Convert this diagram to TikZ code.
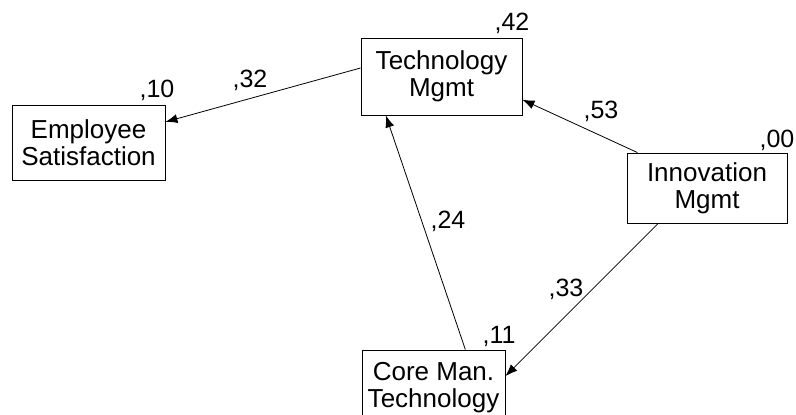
\documentclass[tikz,border=0pt]{standalone}
\usepackage{fontspec}
\setmainfont{Liberation Sans}
\usetikzlibrary{arrows.meta}

\tikzset{
  var/.style={draw, rectangle, line width=0.9pt, inner sep=0pt, align=center, font=\fontsize{26}{27}\selectfont},
  path/.style={line width=0.8pt, -{Latex[length=12pt,width=9pt]}},
  lbl/.style={inner sep=0pt, font=\fontsize{25}{26}\selectfont}
}

\begin{document}
\begin{tikzpicture}[x=1pt, y=-1pt]
                    \useasboundingbox (0,0) rectangle (796,415);
                    \clip (0,0) rectangle (796,415);

                    \node[var, minimum width=153pt, minimum height=75pt] (E) at (88.5, 142.5) {Employee\\Satisfaction};
                    \node[var, minimum width=161pt, minimum height=77pt] (T) at (441.5, 76.5) {Technology\\Mgmt};
                    \node[var, minimum width=160pt, minimum height=70pt] (I) at (707, 188) {Innovation\\Mgmt};
                    \node[var, minimum width=143pt, minimum height=75pt] (C) at (433.5, 387.5) {Core Man.\\Technology};

                    % explained variance
                    \node[lbl] (rE) at (157, 90) {,10};
                    \node[lbl] (rT) at (512, 23) {,42};
                    \node[lbl] (rI) at (777, 140) {,00};
                    \node[lbl] (rC) at (499, 336) {,11};

                    \draw[path] (T.174) -- (E.15.7);
                    \draw[path] (I.153) -- (T.-16.3);
                    \draw[path] (I.-144.5) -- (C.9.9);
                    \draw[path] (C.50) -- (T.215.2);

                    \node[lbl] (pTE) at (250, 80) {,32};
                    \node[lbl] (pIT) at (601, 111) {,53};
                    \node[lbl] (pCT) at (448, 221) {,24};
                    \node[lbl] (pIC) at (566, 289) {,33};
                \end{tikzpicture}
\end{document}
